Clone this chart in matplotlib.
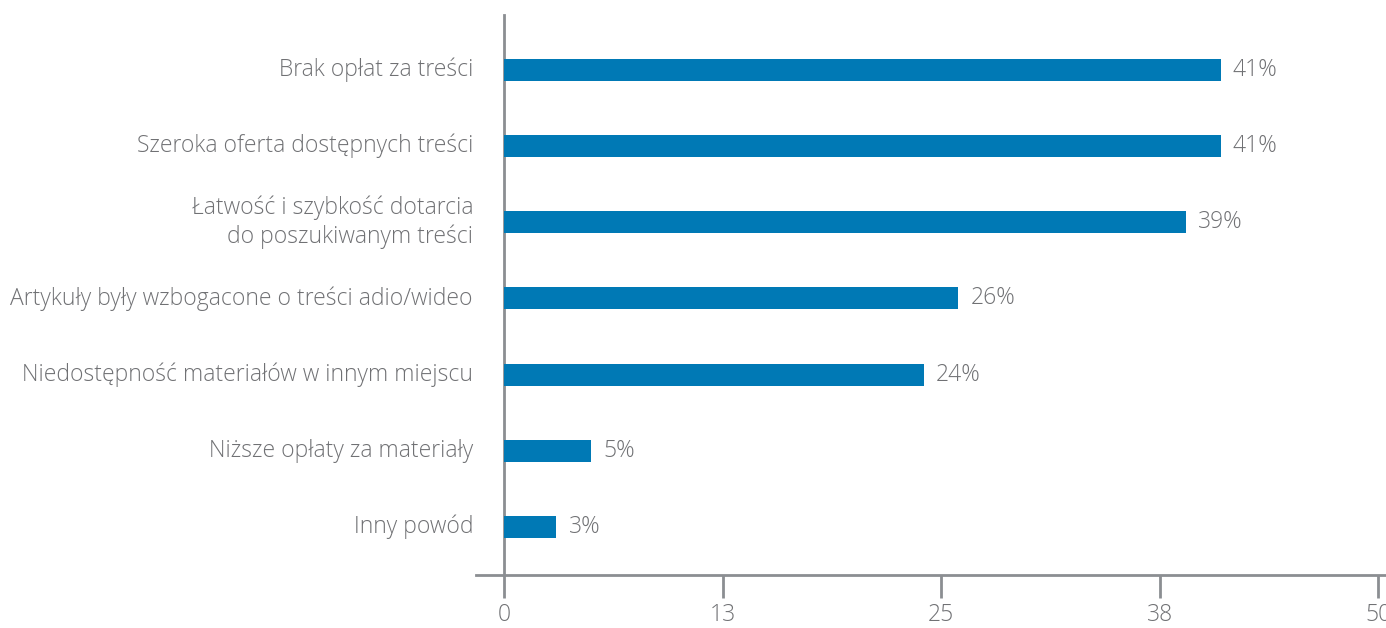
import matplotlib.pyplot as plt

# Powody korzystania z płatnych treści (odsetek odpowiedzi)
categories = [
    'Brak opłat za treści',
    'Szeroka oferta dostępnych treści',
    'Łatwość i szybkość dotarcia\ndo poszukiwanym treści',
    'Artykuły były wzbogacone o treści adio/wideo',
    'Niedostępność materiałów w innym miejscu',
    'Niższe opłaty za materiały',
    'Inny powód',
]
values = [41, 41, 39, 26, 24, 5, 3]
tick_values = [0, 12.5, 25, 37.5, 50]
tick_labels = ['0', '13', '25', '38', '50']

bar_color = '#0079b5'
text_color = '#707174'
axis_color = '#8b8e92'
fs = 16.5

plt.rcParams['font.family'] = ['Open Sans', 'DejaVu Sans']

fig = plt.figure(figsize=(13.86, 6.28), dpi=100)
px = 1 / 1386
ax = fig.add_axes([476 * px, 53 / 628, 910 * px, 560 / 628])

unit = 874 / 50  # pixels per percent
ax.set_xlim(-28 / unit, 882 / unit)

ypos = list(range(len(categories)))[::-1]
ax.set_ylim(-0.63, len(categories) - 1 + 0.72)
ax.barh(ypos, values, height=0.29, color=bar_color, zorder=3)

for y, v in zip(ypos, values):
    ax.text(v + 0.7, y, f'{v}%', va='center', ha='left',
            fontsize=fs, color=text_color, fontweight='light')

for y, c in zip(ypos, categories):
    ax.text(-31 / unit, y, c, va='center', ha='right',
            fontsize=fs, color=text_color, fontweight='light', linespacing=1.2)

ax.spines['top'].set_visible(False)
ax.spines['right'].set_visible(False)
ax.spines['left'].set_position(('data', 0))
for s in ('left', 'bottom'):
    ax.spines[s].set_color(axis_color)
    ax.spines[s].set_linewidth(2)

ax.set_yticks([])
ax.set_xticks(tick_values)
ax.set_xticklabels(tick_labels, fontsize=fs, color=text_color, fontweight='light')
ax.tick_params(axis='x', direction='out', length=16.5, width=2, color=axis_color, pad=4)

fig.savefig('out.png', dpi=100)
